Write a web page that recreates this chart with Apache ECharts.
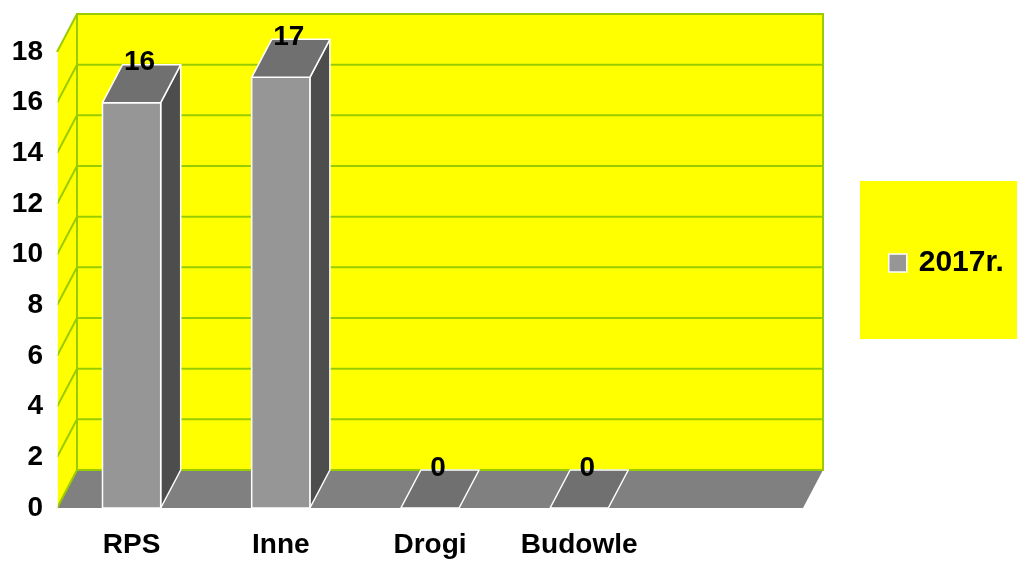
<!DOCTYPE html>
<html><head><meta charset="utf-8">
<script src="https://cdn.jsdelivr.net/npm/echarts@6/dist/echarts.min.js"></script>
<style>html,body{margin:0;padding:0;background:#fff}#c{width:1017px;height:561px}</style>
</head><body><div id="c"></div>
<script>
const categories = ['RPS', 'Inne', 'Drogi', 'Budowle', ''];
const values2017 = [16, 17, 0, 0, null];
const yTicks = [0, 2, 4, 6, 8, 10, 12, 14, 16, 18];
const seriesName = '2017r.';

const FONT = '"Liberation Sans", Arial, sans-serif';
const DX = 20, DY = -38;
const GREEN = '#99CC00';

const chart = echarts.init(document.getElementById('c'), null, {renderer: 'canvas'});

function renderWalls(params, api) {
  const cs = params.coordSys;
  const xl = cs.x, xr = cs.x + cs.width;
  const y0 = api.coord([0, 0])[1];
  const yTop = api.coord([0, yTicks[yTicks.length - 1]])[1];
  const ch = [];
  ch.push({type: 'polygon', shape: {points: [[xl, y0], [xr, y0], [xr + DX, y0 + DY], [xl + DX, y0 + DY]]},
    style: {fill: '#808080', stroke: null}});
  ch.push({type: 'polygon', shape: {points: [[xl, yTop], [xl + DX, yTop + DY], [xl + DX, y0 + DY], [xl, y0]]},
    style: {fill: '#FFFF00', stroke: null}});
  ch.push({type: 'rect', shape: {x: xl + DX, y: yTop + DY, width: xr - xl, height: y0 - yTop},
    style: {fill: '#FFFF00', stroke: GREEN, lineWidth: 2}});
  yTicks.forEach(function (t) {
    const y = api.coord([0, t])[1];
    ch.push({type: 'line', shape: {x1: xl + DX, y1: y + DY, x2: xr + DX, y2: y + DY}, style: {stroke: GREEN, lineWidth: 2}});
    ch.push({type: 'line', shape: {x1: xl, y1: y, x2: xl + DX, y2: y + DY}, style: {stroke: GREEN, lineWidth: 2}});
  });
  ch.push({type: 'line', shape: {x1: xl, y1: yTop, x2: xl, y2: y0}, style: {stroke: '#ffffff', lineWidth: 1.5}});
  return {type: 'group', children: ch};
}

function renderBar(params, api) {
  const ci = api.value(0), v = api.value(1);
  const base = api.coord([ci, 0]);
  const top = api.coord([ci, v]);
  const bw = api.size([1, 0])[0] * 0.39;
  const x0 = base[0] - bw / 2, x1 = base[0] + bw / 2;
  const yb = base[1], yt = top[1];
  const st = {stroke: '#ffffff', lineWidth: 1.5, lineJoin: 'round'};
  const ch = [];
  if (yb - yt > 0.5) {
    ch.push({type: 'polygon', shape: {points: [[x1, yt], [x1 + DX, yt + DY], [x1 + DX, yb + DY], [x1, yb]]},
      style: Object.assign({fill: '#4D4D4D'}, st)});
    ch.push({type: 'rect', shape: {x: x0, y: yt, width: bw, height: yb - yt},
      style: Object.assign({fill: '#969696'}, st)});
  }
  ch.push({type: 'polygon', shape: {points: [[x0, yt], [x1, yt], [x1 + DX, yt + DY], [x0 + DX, yt + DY]]},
    style: Object.assign({fill: '#707070'}, st)});
  ch.push({type: 'text', style: {text: String(v), x: base[0] + 8, y: yt + DY - 2, align: 'center', verticalAlign: 'middle',
    font: 'bold 28px ' + FONT, fill: '#000000'}});
  return {type: 'group', children: ch};
}

const barData = [];
values2017.forEach(function (v, i) { if (v !== null && v !== undefined) barData.push([i, v]); });

chart.setOption({
  animation: false,
  backgroundColor: '#ffffff',
  grid: {left: 57, right: 214, top: 52, bottom: 53, containLabel: false},
  graphic: [{type: 'rect', left: 860, top: 181, shape: {width: 160, height: 158}, style: {fill: '#FFFF00'}, z: 0}],
  legend: {
    data: [seriesName], left: 883, top: 243, orient: 'vertical', icon: 'rect', itemWidth: 18, itemHeight: 18, itemGap: 10,
    textStyle: {fontFamily: FONT, fontWeight: 'bold', fontSize: 30, color: '#000', padding: [0, 0, 0, 7]},
    itemStyle: {color: '#969696', borderColor: '#ffffff', borderWidth: 1.5}
  },
  xAxis: {
    type: 'category', data: categories, boundaryGap: true,
    axisLine: {show: false}, axisTick: {show: false}, splitLine: {show: false},
    axisLabel: {fontFamily: FONT, fontWeight: 'bold', fontSize: 28, color: '#000', margin: 23, interval: 0}
  },
  yAxis: {
    type: 'value', min: 0, max: 18, interval: 2,
    axisLine: {show: false}, axisTick: {show: false}, splitLine: {show: false},
    axisLabel: {fontFamily: FONT, fontWeight: 'bold', fontSize: 28, color: '#000', margin: 14}
  },
  series: [
    {type: 'custom', name: '_walls', data: [[0, 0]], renderItem: renderWalls, clip: false, z: 1, silent: true},
    {type: 'custom', name: seriesName, data: barData, renderItem: renderBar, clip: false, z: 2,
      itemStyle: {color: '#969696'}, encode: {x: 0, y: 1}}
  ]
});
</script></body></html>
